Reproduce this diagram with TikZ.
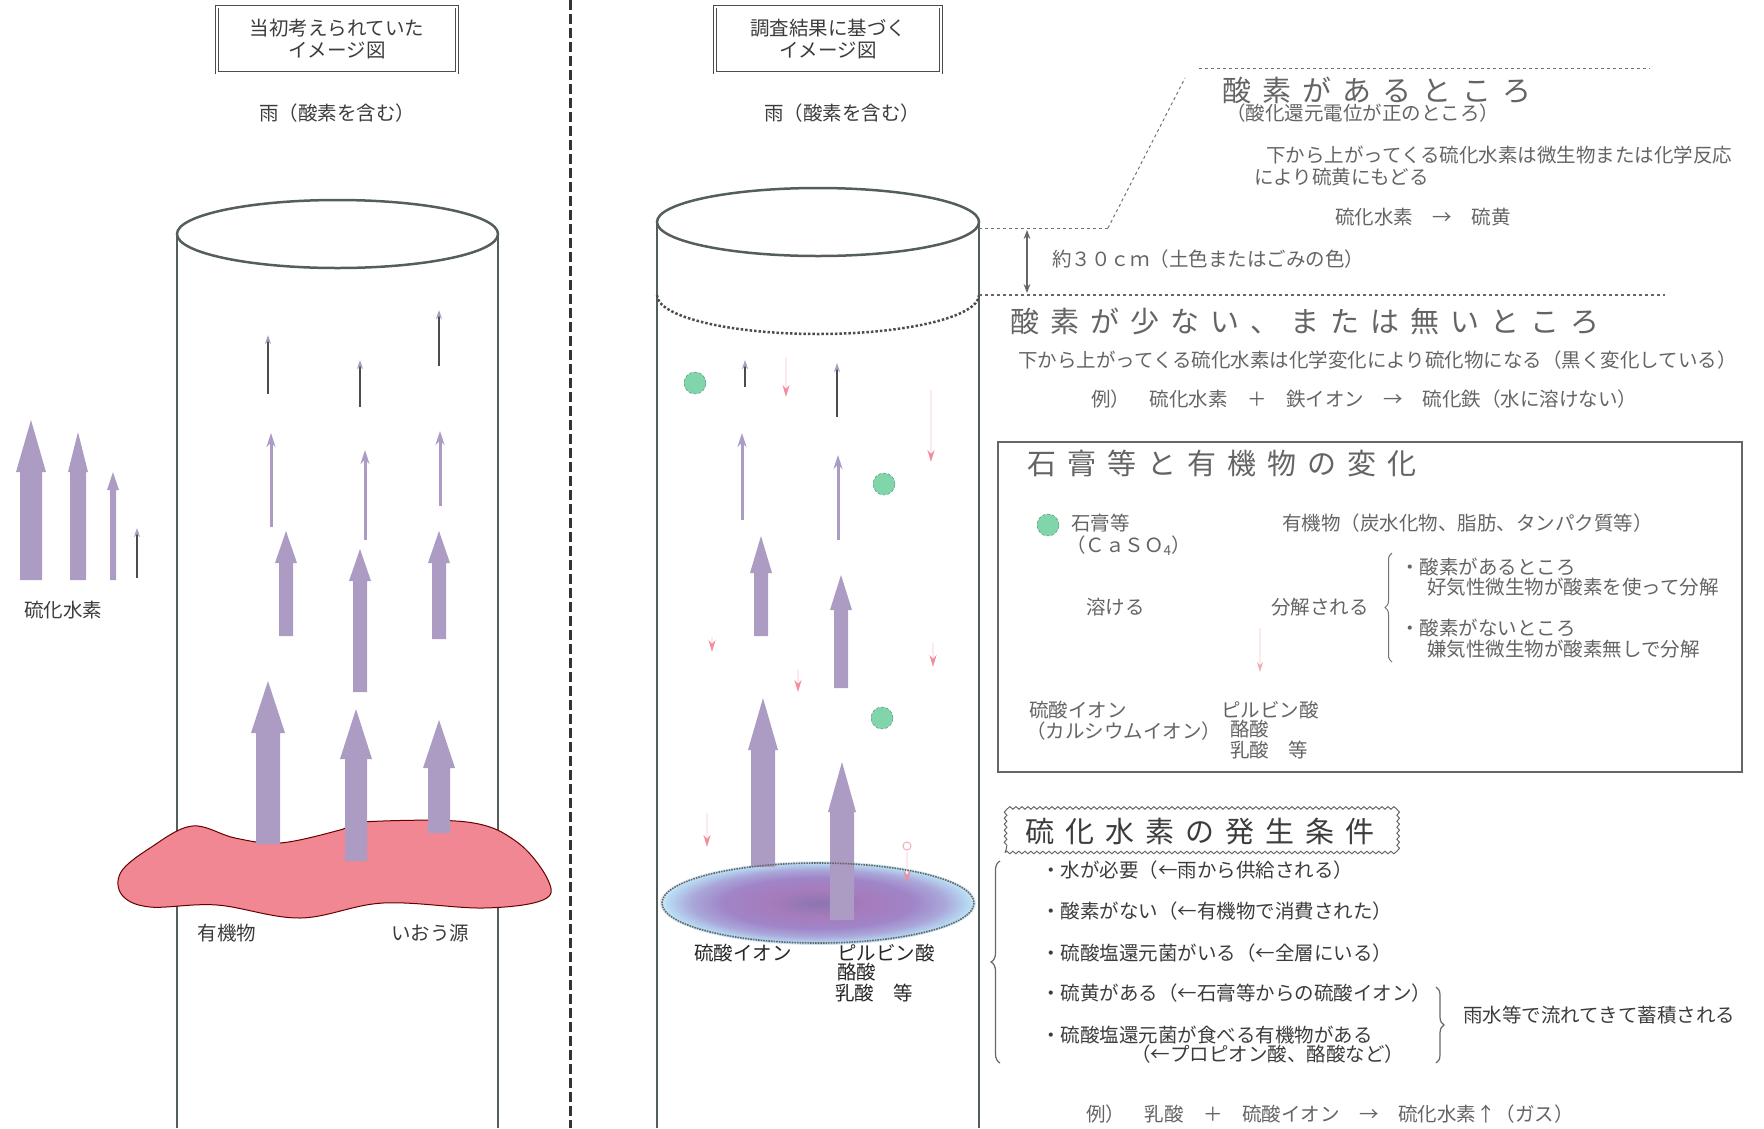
\documentclass[tikz,border=0pt]{standalone}
\usepackage{fontspec}
\setmainfont{Noto Sans CJK JP}
\newfontfamily\headfont[LetterSpace=38]{Noto Sans CJK JP}
\usetikzlibrary{arrows.meta,decorations.pathmorphing,decorations.pathreplacing}

\definecolor{gas}{RGB}{172,156,196}
\definecolor{organic}{RGB}{240,135,146}
\definecolor{gypsum}{RGB}{128,214,170}
\definecolor{ink}{RGB}{60,60,60}
\definecolor{fade}{RGB}{100,100,100}
\definecolor{wallgray}{RGB}{85,95,90}
\definecolor{poolmid}{RGB}{160,132,200}
\definecolor{pooledge}{RGB}{184,220,244}
\definecolor{droptip}{RGB}{238,112,132}

\pgfdeclareradialshading{pool}{\pgfpoint{0bp}{0bp}}{color(0bp)=(poolmid!88!black);
  color(8bp)=(poolmid!94!red); color(15bp)=(poolmid); color(20bp)=(poolmid!60!pooledge);
  color(24bp)=(pooledge); color(26bp)=(white); color(50bp)=(white)}

\tikzset{
  txt/.style={text=ink,font=\fontsize{19.5}{22}\selectfont,inner sep=0pt},
  faint/.style={text=fade,font=\fontsize{19.5}{22}\selectfont,inner sep=0pt},
  heading/.style={text=fade,font=\headfont\fontsize{29}{30}\selectfont,inner sep=0pt},
  titlebox/.style={draw=black!70,double,double distance=2pt,line width=0.8pt,align=center,
    text=ink,font=\fontsize{19.5}{22}\selectfont,inner sep=0pt},
  cylwall/.style={draw=wallgray,line width=2.5pt},
  gasarrow/.style={fill=gas},
  gasline/.style={draw=gas,line width=3pt,-{Stealth[length=14pt,width=9pt]}},
  tinygas/.style={draw=black!70,line width=1.5pt,-{Stealth[length=9pt,width=6pt,color=gas]}},
  dropline/.style={draw=droptip!15,line width=1.5pt,-{Stealth[length=12pt,width=7pt,color=droptip!80]}},
  gypsumdot/.style={circle,fill=gypsum,draw=gypsum!60!black,densely dashed,minimum size=22pt,inner sep=0pt},
  rule/.style={draw=black!55,line width=1pt,dashed}
}

\begin{document}
\begin{tikzpicture}[x=1pt,y=-1pt]
\useasboundingbox (0,0) rectangle (1764,1128);

% dividing line
\draw[black!80,line width=3pt,dash pattern=on 10pt off 4pt] (570,0) -- (570,1128);

% ---- left: first image ----
\node[titlebox,minimum width=240,minimum height=66] (oldtitle) at (337,39.5) {当初考えられていた\\イメージ図};
\node[txt] (oldrain) at (337,113) {雨（酸素を含む）};

\draw[cylwall] (337.5,234) ellipse[x radius=160.5,y radius=34];
\draw[cylwall] (177,234) -- (177,1128);
\draw[cylwall] (498,234) -- (498,1128);

% organic matter layer
\filldraw[fill=organic,draw=black!60!red,line width=1pt] plot[smooth cycle,tension=0.6] coordinates {
  (121,872) (150,848) (192,826) (235,838) (280,843) (340,830) (362,822) (467,822)
  (517,842) (548,880) (543,900) (483,908) (383,903) (300,918) (217,905) (150,907) (122,895)};

% rising hydrogen sulfide
\foreach \x/\t/\b/\w/\h/\l in {268/681/844/12/17/52, 356/709/861/11/16/50, 439/720/833/11/16/48,
    286/531/636/7/11/32, 360/549/692/7/11/32, 439/531/639/7/11/32,
    31/420/580/11/15/52, 78/432/580/8/10/40, 113/472/580/3/6/18}
  \fill[gasarrow] (\x-\w,\b) -- (\x-\w,\t+\l) -- (\x-\h,\t+\l) -- (\x,\t) -- (\x+\h,\t+\l) -- (\x+\w,\t+\l) -- (\x+\w,\b) -- cycle;
\foreach \x/\t/\b in {271/433/527, 365/450/540, 440/431/506}
  \draw[gasline] (\x,\b) -- (\x,\t);
\foreach \x/\t/\b in {268/335/394, 360/360/407, 439/310/366, 137/528/578}
  \draw[tinygas] (\x,\b) -- (\x,\t);

\node[txt] (h2s) at (63,610) {硫化水素};
\node[txt] (organiclbl) at (227,933) {有機物};
\node[txt] (sulfurlbl) at (430,933) {いおう源};

% ---- middle: second image ----
\node[titlebox,minimum width=226,minimum height=66] (newtitle) at (828,39.5) {調査結果に基づく\\イメージ図};
\node[txt] (newrain) at (842,113) {雨（酸素を含む）};

\draw[cylwall] (818,222) ellipse[x radius=161,y radius=34];
\draw[cylwall] (657,222) -- (657,1128);
\draw[cylwall] (979,222) -- (979,1128);
\draw[black!70,line width=2.5pt,dotted] (657,295) arc[start angle=180,end angle=0,x radius=161,y radius=39];

% sulfate pool at the bottom
\shade[shading=pool] (818,903) ellipse[x radius=158,y radius=42];

\foreach \x/\t/\b/\w/\h/\l in {763/698/867/12/15/52, 842/762/920/12/14/50,
    761/536/636/7/11/37, 841/575/688/7/11/35}
  \fill[gasarrow] (\x-\w,\b) -- (\x-\w,\t+\l) -- (\x-\h,\t+\l) -- (\x,\t) -- (\x+\h,\t+\l) -- (\x+\w,\t+\l) -- (\x+\w,\b) -- cycle;
\foreach \x/\t/\b in {742/433/520, 838/455/540}
  \draw[gasline] (\x,\b) -- (\x,\t);
\foreach \x/\t/\b in {745/360/387, 837/363/417}
  \draw[tinygas] (\x,\b) -- (\x,\t);

% oxygen carried down
\foreach \x/\t/\b in {786/357/397, 931/390/462, 712/637/652, 798/670/692, 933/643/667, 707/813/847, 907/852/883}
  \draw[dropline] (\x,\t) -- (\x,\b);
\draw[droptip!60,line width=1pt] (907,846) circle[radius=4];

\draw[black!60,line width=1.6pt,densely dotted] (818,903) ellipse[x radius=156,y radius=40];

\node[gypsumdot] (gyp1) at (695,383) {};
\node[gypsumdot] (gyp2) at (884,484) {};
\node[gypsumdot] (gyp3) at (882,718) {};

\node[txt,text=black!85] (sulfateion) at (743,953) {硫酸イオン};
\node[txt,text=black!85,anchor=west] (pyruvic) at (837,953) {ピルビン酸};
\node[txt,text=black!85,anchor=west] (butyric) at (837,972) {酪酸};
\node[txt,text=black!85,anchor=west] (lactic) at (835,993) {乳酸　等};

% ---- right: notes ----
\draw[rule] (1199,68) -- (1650,68);
\draw[rule] (1108,228) -- (1185,78);
\draw[rule] (979,228) -- (1108,228);
\draw[black!60,line width=1.5pt,dashed] (979,295) -- (1665,295);
\draw[black!60,line width=1.2pt,{Stealth[length=9pt]}-{Stealth[length=9pt]}] (1027,230) -- (1027,293);

\node[heading,anchor=west] (oxyes) at (1222,90) {酸素があるところ};
\node[faint,anchor=west] (oxyessub) at (1226,113) {（酸化還元電位が正のところ）};
\node[faint,anchor=west] (oxyes1) at (1266,155) {下から上がってくる硫化水素は微生物または化学反応};
\node[faint,anchor=west] (oxyes2) at (1254,177) {により硫黄にもどる};
\node[faint] (oxyes3) at (1423,217) {硫化水素　→　硫黄};
\node[faint,anchor=west] (depth) at (1052,259) {約３０ｃｍ（土色またはごみの色）};

\node[heading,anchor=west] (oxno) at (1010,321) {酸素が少ない、または無いところ};
\node[faint,anchor=west] (oxno1) at (1018,360) {下から上がってくる硫化水素は化学変化により硫化物になる（黒く変化している）};
\node[faint,anchor=west] (oxno2) at (1091,399) {例）　硫化水素　＋　鉄イオン　→　硫化鉄（水に溶けない）};

% change of gypsum and organic matter
\draw[black!60,line width=2pt] (998,442) rectangle (1742,772);
\node[heading,anchor=west] (change) at (1027,463) {石膏等と有機物の変化};
\node[gypsumdot,densely dashed] (gyplegend) at (1048,525) {};
\node[faint,anchor=west] (gypsum) at (1071,523) {石膏等};
\node[faint,anchor=west] (caso) at (1066,546) {（ＣａＳＯ\textsubscript{4}）};
\node[faint,anchor=west] (organic) at (1282,523) {有機物（炭水化物、脂肪、タンパク質等）};
\node[faint,anchor=west] (dissolve) at (1086,607) {溶ける};
\node[faint,anchor=west] (decomp) at (1271,607) {分解される};
\draw[black!55,line width=1pt,decorate,decoration={brace,amplitude=7pt}] (1392,662) -- (1392,553);
\node[faint,anchor=west] (aerobic) at (1400,567) {・酸素があるところ};
\node[faint,anchor=west] (aerobic2) at (1427,587) {好気性微生物が酸素を使って分解};
\node[faint,anchor=west] (anaerobic) at (1400,628) {・酸素がないところ};
\node[faint,anchor=west] (anaerobic2) at (1427,649) {嫌気性微生物が酸素無しで分解};
\draw[draw=droptip!15,line width=1.5pt,-{Stealth[length=10pt,width=6pt,color=droptip!60]}] (1260,628) -- (1260,672);
\node[faint,anchor=west] (ion1) at (1029,710) {硫酸イオン};
\node[faint,anchor=west] (ion2) at (1026,731) {（カルシウムイオン）};
\node[faint,anchor=west] (acid1) at (1221,710) {ピルビン酸};
\node[faint,anchor=west] (acid2) at (1230,729) {酪酸};
\node[faint,anchor=west] (acid3) at (1230,750) {乳酸　等};

% conditions for hydrogen sulfide
\node[heading,draw=black!60,line width=1pt,decorate,decoration={snake,amplitude=1.3pt,segment length=6pt},
  minimum width=390,minimum height=41,text=ink] (cond) at (1200,832) {硫化水素の発生条件};
\draw[black!60,line width=1.2pt,decorate,decoration={brace,amplitude=9pt}] (1000,1063) -- (1000,861);
\node[txt,anchor=west] (c1) at (1041,870) {・水が必要（←雨から供給される）};
\node[txt,anchor=west] (c2) at (1041,911) {・酸素がない（←有機物で消費された）};
\node[txt,anchor=west] (c3) at (1041,953) {・硫酸塩還元菌がいる（←全層にいる）};
\node[txt,anchor=west] (c4) at (1041,993) {・硫黄がある（←石膏等からの硫酸イオン）};
\node[txt,anchor=west] (c5) at (1041,1035) {・硫酸塩還元菌が食べる有機物がある};
\node[txt,anchor=west] (c5b) at (1131,1054) {（←プロピオン酸、酪酸など）};
\draw[black!60,line width=1.2pt,decorate,decoration={brace,amplitude=8pt}] (1436,987) -- (1436,1063);
\node[txt,anchor=west] (rainwater) at (1463,1015) {雨水等で流れてきて蓄積される};
\node[faint,anchor=west] (example) at (1086,1114) {例）　乳酸　＋　硫酸イオン　→　硫化水素↑（ガス）};

\end{tikzpicture}
\end{document}
